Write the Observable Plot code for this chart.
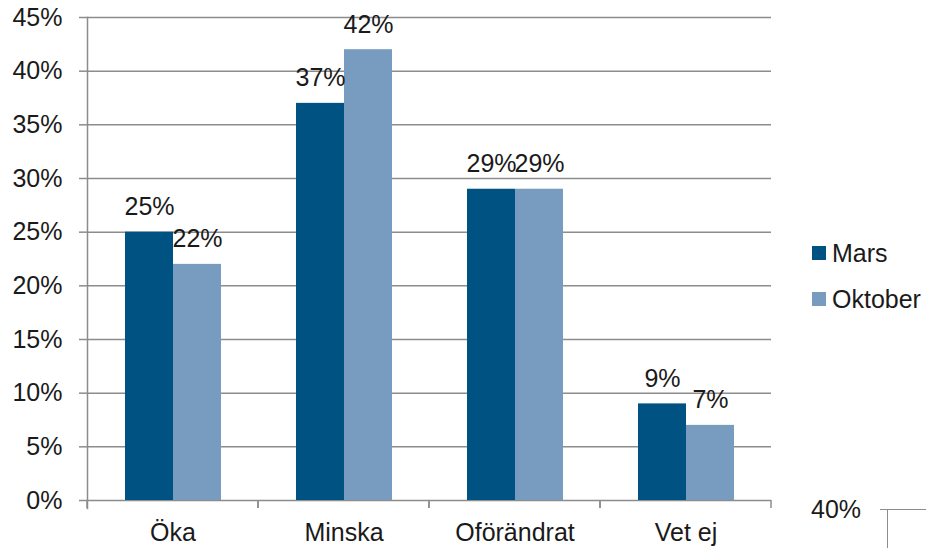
<!DOCTYPE html>
<html><head><meta charset="utf-8">
<script src="https://cdn.jsdelivr.net/npm/d3@7"></script>
<script src="https://cdn.jsdelivr.net/npm/@observablehq/plot@0.6"></script>
<style>
body{margin:0;background:#fff;font-family:"Liberation Sans",Arial,sans-serif;}
#wrap{position:relative;width:926px;height:548px;overflow:hidden;}
.leg{position:absolute;left:812px;height:25px;font-size:25px;color:#1a1a1a;display:flex;align-items:center;line-height:1;white-space:nowrap;}
.sw{width:14px;height:14px;margin-right:6px;flex:none;}
.extra{position:absolute;left:811px;top:497px;font-size:25px;color:#1a1a1a;line-height:1;}
.hl{position:absolute;left:880px;top:509px;width:46px;height:0;border-top:1.5px solid #8c8c8c;}
.vl{position:absolute;left:887px;top:509px;width:0;height:40px;border-left:1.5px solid #8c8c8c;}
</style></head><body><div id="wrap"></div>
<script>
const categories = ["Öka", "Minska", "Oförändrat", "Vet ej"];
const seriesNames = ["Mars", "Oktober"];
const mars = [25, 37, 29, 9];
const oktober = [22, 42, 29, 7];
const yTicks = [0, 5, 10, 15, 20, 25, 30, 35, 40, 45];
const colors = ["#005282", "#789cc0"];
const extraLabel = "40%";

const data = categories.flatMap((c, i) => [
  {category: c, series: seriesNames[0], value: mars[i]},
  {category: c, series: seriesNames[1], value: oktober[i]}
]);

// small tick marks at the category boundaries (drawn per facet, in facet coordinates)
function boundaryTicks(index, scales, values, dimensions) {
  const {y} = scales;
  const {marginLeft, marginRight, width} = dimensions;
  const g = d3.create("svg:g").attr("stroke", "#8c8c8c").attr("stroke-width", 1.5);
  const y0 = y(0);
  [marginLeft, width - marginRight].forEach(x =>
    g.append("line").attr("x1", x).attr("x2", x).attr("y1", y0).attr("y2", y0 + 8));
  return g.node();
}

const chart = Plot.plot({
  width: 926, height: 548,
  marginLeft: 87, marginRight: 155, marginTop: 17, marginBottom: 48,
  style: {fontFamily: "'Liberation Sans', Arial, sans-serif", fontSize: "25px", color: "#1a1a1a", background: "white"},
  fx: {domain: categories, padding: 0, label: null},
  x: {domain: seriesNames, paddingInner: 0, paddingOuter: 0.755, axis: null},
  y: {domain: [0, 45], label: null},
  color: {domain: seriesNames, range: colors},
  marks: [
    Plot.gridY(yTicks, {stroke: "#8c8c8c", strokeOpacity: 1, strokeWidth: 1.5}),
    Plot.axisY(yTicks, {tickSize: 8, tickPadding: 17, tickFormat: d => d + "%", stroke: "#8c8c8c", strokeWidth: 1.5, fontSize: 25, label: null}),
    Plot.frame({anchor: "left", facetAnchor: "left", insetBottom: -8, stroke: "#8c8c8c", strokeWidth: 1.5}),
    Plot.axisFx({anchor: "bottom", tickSize: 0, tickPadding: 23, fontSize: 25, label: null}),
    Plot.barY(data, {fx: "category", x: "series", y: "value", fill: "series"}),
    Plot.text(data, {fx: "category", x: "series", y: "value", text: d => d.value + "%", dy: -25, fontSize: 25, fill: "#1a1a1a"}),
    boundaryTicks
  ]
});

const wrap = document.getElementById("wrap");
wrap.appendChild(chart);
seriesNames.forEach((s, i) => {
  const d = document.createElement("div");
  d.className = "leg";
  d.style.top = (240.5 + i * 46) + "px";
  d.innerHTML = `<div class="sw" style="background:${colors[i]}"></div><span>${s}</span>`;
  wrap.appendChild(d);
});
const ex = document.createElement("div"); ex.className = "extra"; ex.textContent = extraLabel; wrap.appendChild(ex);
const hl = document.createElement("div"); hl.className = "hl"; wrap.appendChild(hl);
const vl = document.createElement("div"); vl.className = "vl"; wrap.appendChild(vl);
</script>
</body></html>
